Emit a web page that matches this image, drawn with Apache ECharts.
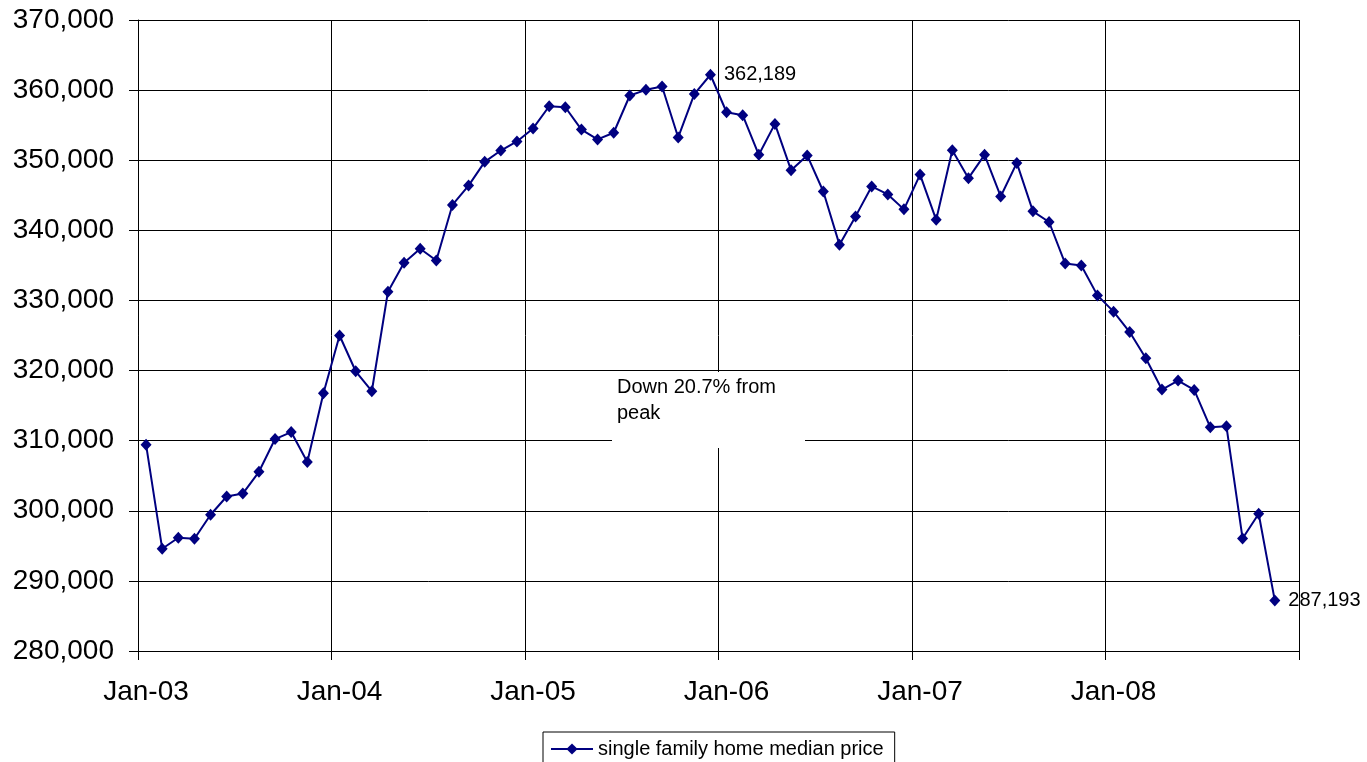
<!DOCTYPE html>
<html>
<head>
<meta charset="utf-8">
<script src="https://cdn.jsdelivr.net/npm/echarts@6/dist/echarts.min.js"></script>
<style>
html,body{margin:0;padding:0;background:#fff;}
#chart{width:1367px;height:762px;}
</style>
</head>
<body>
<div id="chart"></div>
<script>
const months = [
  '2003-01','2003-02','2003-03','2003-04','2003-05','2003-06','2003-07','2003-08','2003-09','2003-10','2003-11','2003-12',
  '2004-01','2004-02','2004-03','2004-04','2004-05','2004-06','2004-07','2004-08','2004-09','2004-10','2004-11','2004-12',
  '2005-01','2005-02','2005-03','2005-04','2005-05','2005-06','2005-07','2005-08','2005-09','2005-10','2005-11','2005-12',
  '2006-01','2006-02','2006-03','2006-04','2006-05','2006-06','2006-07','2006-08','2006-09','2006-10','2006-11','2006-12',
  '2007-01','2007-02','2007-03','2007-04','2007-05','2007-06','2007-07','2007-08','2007-09','2007-10','2007-11','2007-12',
  '2008-01','2008-02','2008-03','2008-04','2008-05','2008-06','2008-07','2008-08','2008-09','2008-10','2008-11'
];
const medianPrice = [
  309430, 294590, 296150, 296010, 299430, 302040, 302460, 305560, 310230, 311230, 306950, 316750,
  325000, 319900, 317050, 331240, 335370, 337370, 335700, 343620, 346380, 349770, 351380, 352680,
  354530, 357700, 357560, 354370, 352970, 353920, 359230, 360040, 360510, 353250, 359430, 362189,
  356840, 356420, 350770, 355180, 348580, 350680, 345540, 337960, 341990, 346260, 345120, 342990,
  347950, 341500, 351420, 347440, 350770, 344830, 349620, 342710, 341190, 335260, 334970, 330720,
  328400, 325490, 321750, 317290, 318570, 317240, 311900, 312040, 296050, 299570, 287193
];
const labelledMonths = ['2005-12', '2008-11'];
const xTickYears = ['Jan-03','Jan-04','Jan-05','Jan-06','Jan-07','Jan-08','Jan-09'];
const seriesName = 'single family home median price';
const annotationText = 'Down 20.7% from\npeak';

const FONT = '"Liberation Sans", Arial, sans-serif';
const startYear = 2003;

function monthPos(m) {
  const [y, mo] = m.split('-').map(Number);
  return (y - startYear) * 12 + (mo - 1) + 0.5;
}
const fmt = v => v.toLocaleString('en-US');

const seriesData = months.map((m, i) => {
  const item = { value: [monthPos(m), medianPrice[i]] };
  if (labelledMonths.includes(m)) {
    item.label = {
      show: true, position: 'right', distance: 8,
      formatter: p => fmt(p.value[1]),
      color: '#000', fontSize: 20, fontFamily: FONT
    };
  }
  return item;
});

const chart = echarts.init(document.getElementById('chart'));
chart.setOption({
  animation: false,
  backgroundColor: '#fff',
  grid: { left: 138, right: 68, top: 20, bottom: 111, containLabel: false },
  xAxis: {
    type: 'value', min: 0, max: 72, interval: 12,
    axisLine: { show: true, onZero: false, lineStyle: { color: '#000', width: 1 } },
    axisTick: { show: true, inside: false, length: 9, lineStyle: { color: '#000' } },
    splitLine: { show: true, lineStyle: { color: '#000', width: 1 } },
    axisLabel: {
      margin: 27, color: '#000', fontSize: 28, fontFamily: FONT,
      padding: [0, 0, 0, 16],
      showMinLabel: true, showMaxLabel: true,
      formatter: v => (v / 12 < xTickYears.length - 1 ? xTickYears[v / 12] : '')
    }
  },
  yAxis: {
    type: 'value', min: 280000, max: 370000, interval: 10000,
    axisLine: { show: true, lineStyle: { color: '#000', width: 1 } },
    axisTick: { show: true, inside: false, length: 9, lineStyle: { color: '#000' } },
    splitLine: { show: true, lineStyle: { color: '#000', width: 1 } },
    axisLabel: { margin: 24, color: '#000', fontSize: 28, fontFamily: FONT, padding: [4, 0, 0, 0], formatter: v => fmt(v) }
  },
  legend: {
    left: 543, top: 732,
    data: [seriesName],
    borderColor: '#000', borderWidth: 1, borderRadius: 0,
    padding: [7, 11, 7, 7],
    itemWidth: 42, itemHeight: 14,
    lineStyle: { width: 2 },
    textStyle: { color: '#000', fontSize: 20, fontFamily: FONT }
  },
  graphic: [
    { type: 'rect', z: 100, zlevel: 0, shape: { x: 612, y: 372, width: 193, height: 76 }, style: { fill: '#fff' } },
    { type: 'text', z: 101, zlevel: 0, x: 617, y: 374, style: { text: annotationText, fill: '#000', fontSize: 20, fontFamily: FONT, lineHeight: 26, verticalAlign: 'top' } }
  ],
  series: [{
    name: seriesName,
    type: 'line',
    data: seriesData,
    symbol: 'diamond',
    symbolSize: [11, 12],
    showAllSymbol: true,
    lineStyle: { color: '#000080', width: 2 },
    itemStyle: { color: '#000080' },
    z: 5
  }]
});
</script>
</body>
</html>
